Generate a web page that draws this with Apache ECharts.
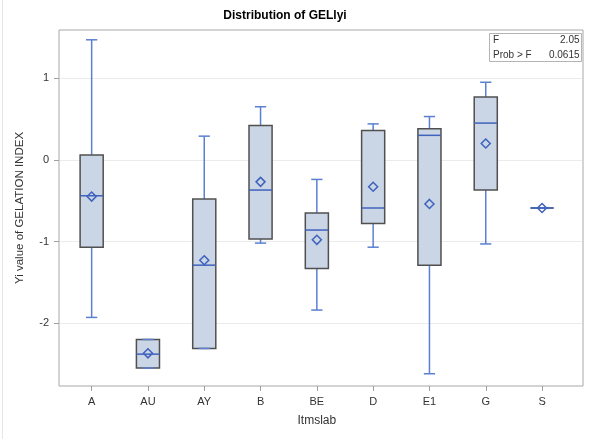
<!DOCTYPE html>
<html>
<head>
<meta charset="utf-8">
<script src="https://cdn.jsdelivr.net/npm/echarts@6/dist/echarts.min.js"></script>
<style>html,body{margin:0;padding:0;background:#fff;}#c{width:589px;height:439px;}</style>
</head>
<body>
<div id="c"></div>
<script>
const categories = ['A','AU','AY','B','BE','D','E1','G','S'];
const minVals    = [-1.93,-2.55,-2.31,-1.02,-1.84,-1.07,-2.62,-1.03,-0.59];
const q1Vals     = [-1.07,-2.55,-2.31,-0.97,-1.33,-0.78,-1.29,-0.37,-0.59];
const medianVals = [-0.44,-2.38,-1.29,-0.37,-0.86,-0.59, 0.30, 0.45,-0.59];
const q3Vals     = [ 0.06,-2.20,-0.48, 0.42,-0.65, 0.36, 0.38, 0.77,-0.59];
const maxVals    = [ 1.47,-2.20, 0.29, 0.65,-0.24, 0.44, 0.53, 0.95,-0.59];
const meanVals   = [-0.45,-2.37,-1.23,-0.27,-0.98,-0.33,-0.54, 0.20,-0.59];
const yTicks = [-2, -1, 0, 1];
const statF = '2.05';
const statProb = '0.0615';
const titleText = 'Distribution of GELlyi';
const yName = 'Yi value of GELATION INDEX';
const xName = 'Itmslab';

const FONT = "'Liberation Sans', Arial, sans-serif";
const WBLUE = '#5a80d0';
const MBLUE = '#3f62bc';
const BOXFILL = '#cad5e5';
const BOXLINE = '#505050';
const YMIN = -2.77, YMAX = 1.59;

const boxData = categories.map((c, i) => [i, minVals[i], q1Vals[i], medianVals[i], q3Vals[i], maxVals[i], meanVals[i]]);
const gridData = yTicks.map(v => [0.5, v]);

const chart = echarts.init(document.getElementById('c'));
chart.setOption({
  animation: false,
  backgroundColor: '#fff',
  grid: [
    {left: 59, right: 6, top: 30, bottom: 53, show: true, borderColor: '#a8a8a8', borderWidth: 1, backgroundColor: 'transparent'},
    {left: 63.5, right: 18.8, top: 30, bottom: 53}
  ],
  xAxis: [
    {type: 'value', gridIndex: 0, min: 0, max: 1, show: false},
    {type: 'category', gridIndex: 1, data: categories, boundaryGap: true, position: 'bottom',
     axisLine: {show: false, onZero: false},
     axisTick: {show: true, alignWithLabel: true, length: 5, lineStyle: {color: '#a0a0a0'}},
     axisLabel: {fontFamily: FONT, fontSize: 11, color: '#333', margin: 10},
     name: xName, nameLocation: 'middle', nameGap: 29,
     nameTextStyle: {fontFamily: FONT, fontSize: 12, color: '#333'}}
  ],
  yAxis: [
    {type: 'value', gridIndex: 0, min: YMIN, max: YMAX,
     axisLine: {show: false},
     splitLine: {show: false},
     axisTick: {show: true, length: 5, customValues: yTicks, lineStyle: {color: '#a0a0a0'}},
     axisLabel: {fontFamily: FONT, fontSize: 11, color: '#333', margin: 10, customValues: yTicks},
     name: yName, nameLocation: 'middle', nameGap: 33,
     nameTextStyle: {fontFamily: FONT, fontSize: 11.5, color: '#333'}},
    {type: 'value', gridIndex: 1, min: YMIN, max: YMAX, show: false}
  ],
  series: [
    {
      type: 'custom', xAxisIndex: 0, yAxisIndex: 0, z: 1, silent: true,
      data: gridData, encode: {x: 0, y: 1},
      renderItem: function (params, api) {
        const y = api.coord([0, api.value(1)])[1];
        const cs = params.coordSys;
        return {type: 'line', shape: {x1: cs.x + 1, y1: Math.round(y) + 0.5, x2: cs.x + cs.width - 1, y2: Math.round(y) + 0.5},
                style: {stroke: '#ebebeb', lineWidth: 1}};
      }
    },
    {
      type: 'custom', xAxisIndex: 1, yAxisIndex: 1, z: 2, silent: true,
      data: boxData, encode: {x: 0, y: [1, 2, 3, 4, 5, 6]},
      renderItem: function (params, api) {
        const i = api.value(0);
        const x = api.coord([i, 0])[0];
        const band = api.size([1, 0])[0];
        const bw = band * 0.41;
        const cw = band * 0.2;
        const py = k => api.coord([i, api.value(k)])[1];
        const yMin = py(1), yQ1 = py(2), yMed = py(3), yQ3 = py(4), yMax = py(5), yMean = py(6);
        const ls = {stroke: WBLUE, lineWidth: 1.5};
        const ms = {stroke: MBLUE, lineWidth: 1.5};
        const d = 4.5;
        const children = [
          {type: 'line', shape: {x1: x, y1: yQ3, x2: x, y2: yMax}, style: ls},
          {type: 'line', shape: {x1: x, y1: yQ1, x2: x, y2: yMin}, style: ls},
          {type: 'rect', shape: {x: x - bw / 2, y: yQ3, width: bw, height: yQ1 - yQ3},
           style: {fill: BOXFILL, stroke: BOXLINE, lineWidth: 1.5}},
          {type: 'line', shape: {x1: x - cw / 2, y1: yMax, x2: x + cw / 2, y2: yMax}, style: ls},
          {type: 'line', shape: {x1: x - cw / 2, y1: yMin, x2: x + cw / 2, y2: yMin}, style: ls},
          {type: 'line', shape: {x1: x - bw / 2, y1: yMed, x2: x + bw / 2, y2: yMed}, style: ms},
          {type: 'polygon', shape: {points: [[x, yMean - d], [x + d, yMean], [x, yMean + d], [x - d, yMean]]},
           style: {fill: 'none', stroke: MBLUE, lineWidth: 1.5}}
        ];
        return {type: 'group', children: children};
      }
    }
  ],
  graphic: [
    {type: 'line', shape: {x1: 2.5, y1: 0, x2: 2.5, y2: 439}, style: {stroke: '#e4e4ec', lineWidth: 1}, silent: true},
    {type: 'text', x: 285, y: 16, style: {text: titleText, font: "bold 12px " + FONT, fill: '#000', textAlign: 'center', textVerticalAlign: 'middle'}},
    {type: 'rect', shape: {x: 489.5, y: 33.5, width: 92, height: 28}, style: {fill: '#fff', stroke: '#b4b4b4', lineWidth: 1}, z: 10},
    {type: 'text', x: 493, y: 40.5, z: 11, style: {text: 'F', font: "10px " + FONT, fill: '#333', textAlign: 'left', textVerticalAlign: 'middle'}},
    {type: 'text', x: 579.5, y: 40.5, z: 11, style: {text: statF, font: "10px " + FONT, fill: '#333', textAlign: 'right', textVerticalAlign: 'middle'}},
    {type: 'text', x: 493, y: 55, z: 11, style: {text: 'Prob > F', font: "10px " + FONT, fill: '#333', textAlign: 'left', textVerticalAlign: 'middle'}},
    {type: 'text', x: 579.5, y: 55, z: 11, style: {text: statProb, font: "10px " + FONT, fill: '#333', textAlign: 'right', textVerticalAlign: 'middle'}}
  ]
});
</script>
</body>
</html>
